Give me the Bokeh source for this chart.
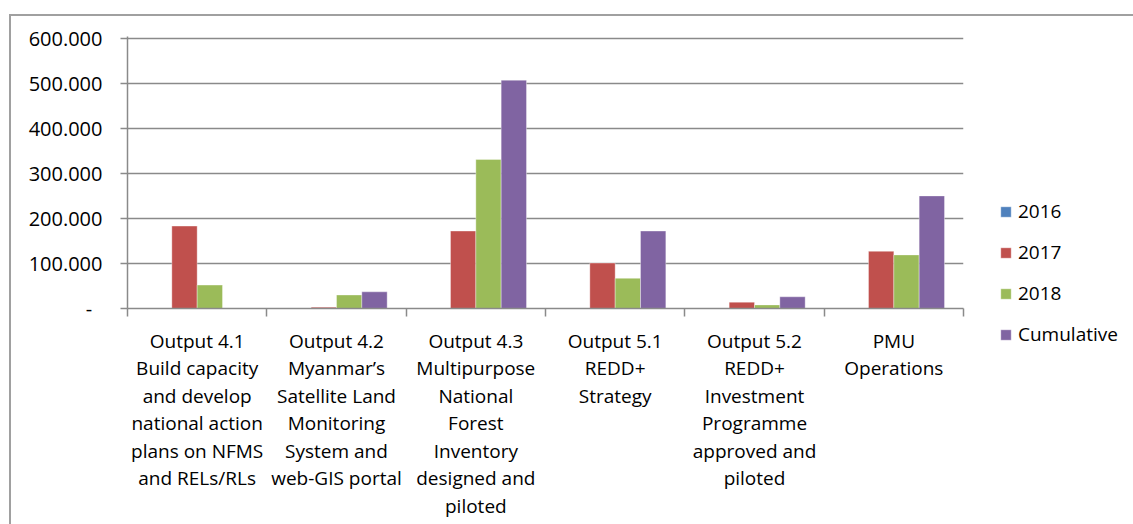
from bokeh.plotting import figure
from bokeh.models import (ColumnDataSource, FixedTicker, Range1d, Legend, LegendItem,
                          InlineStyleSheet)
from bokeh.transform import dodge
from bokeh.embed import file_html
from bokeh.resources import INLINE

categories = [
    "Output 4.1\nBuild capacity\nand develop\nnational action\nplans on NFMS\nand RELs/RLs",
    "Output 4.2\nMyanmar\u2019s\nSatellite Land\nMonitoring\nSystem and\nweb-GIS portal",
    "Output 4.3\nMultipurpose\nNational\nForest\nInventory\ndesigned and\npiloted",
    "Output 5.1\nREDD+\nStrategy",
    "Output 5.2\nREDD+\nInvestment\nProgramme\napproved and\npiloted",
    "PMU\nOperations",
]
series_names = ["2016", "2017", "2018", "Cumulative"]
v2016 = [0, 0, 0, 0, 0, 0]
v2017 = [183000, 3000, 172000, 101000, 14000, 127000]
v2018 = [52000, 30000, 331000, 67000, 8000, 119000]
vcum = [0, 37000, 507000, 172000, 26000, 250000]
y_ticks = [0, 100000, 200000, 300000, 400000, 500000, 600000]
y_tick_labels = ["-\u00a0\u00a0", "100.000", "200.000", "300.000", "400.000", "500.000", "600.000"]

colors = ["#4F81BD", "#C0504D", "#9BBB59", "#8064A2"]
FONT = "Open Sans"
GRID = "#8a8a8a"

src = ColumnDataSource(data=dict(
    pos=[i + 0.5 for i in range(len(categories))],
    s2016=v2016, s2017=v2017, s2018=v2018, scum=vcum,
))

p = figure(frame_width=836, frame_height=272,
           x_range=Range1d(0, len(categories)), y_range=Range1d(0, 604000),
           output_backend="svg", toolbar_location=None,
           min_border_left=127, min_border_right=170, min_border_top=36,
           min_border_bottom=216)
p.outline_line_color = None
p.background_fill_color = "white"
p.border_fill_color = "white"

bw = 1.0 / 5.5
cols = ["s2016", "s2017", "s2018", "scum"]
renderers = []
for j, (c, col) in enumerate(zip(cols, colors)):
    r = p.vbar(x=dodge("pos", (j - 1.5) * bw, range=p.x_range), top=c, width=bw,
               bottom=0, source=src, fill_color=col, line_color="white",
               line_alpha=0.35, line_width=1)
    renderers.append(r)

# grid
p.xgrid.grid_line_color = None
p.ygrid.ticker = FixedTicker(ticks=y_ticks)
p.ygrid.grid_line_color = GRID
p.ygrid.grid_line_width = 1.5

# y axis
ya = p.yaxis[0]
ya.ticker = FixedTicker(ticks=y_ticks)
ya.major_label_overrides = {t: l for t, l in zip(y_ticks, y_tick_labels)}
ya.axis_line_color = GRID
ya.axis_line_width = 1.5
ya.major_tick_line_color = GRID
ya.major_tick_line_width = 1.5
ya.major_tick_in = 0
ya.major_tick_out = 7
ya.minor_tick_line_color = None
ya.major_label_text_font = FONT
ya.major_label_text_font_size = "20px"
ya.major_label_text_color = "#000000"
ya.major_label_standoff = 18

# x axis: labels at centers, ticks at category boundaries
xa = p.xaxis[0]
centers = [i + 0.5 for i in range(len(categories))]
xa.ticker = FixedTicker(ticks=centers, minor_ticks=list(range(len(categories) + 1)))
xa.major_label_overrides = {c: lab for c, lab in zip(centers, categories)}
xa.axis_line_color = GRID
xa.axis_line_width = 1.5
xa.major_tick_line_color = None
xa.minor_tick_line_color = GRID
xa.minor_tick_line_width = 1.5
xa.minor_tick_in = 0
xa.minor_tick_out = 8
xa.major_label_text_font = FONT
xa.major_label_text_font_size = "19px"
xa.major_label_text_color = "#000000"
xa.major_label_text_line_height = 1.06
xa.major_label_standoff = 11

# legend
legend = Legend(items=[LegendItem(label=n, renderers=[r]) for n, r in zip(series_names, renderers)],
                location=(36, -39), orientation="vertical",
                glyph_width=13, glyph_height=13, label_standoff=6, spacing=15,
                padding=0, margin=0, border_line_color=None, background_fill_alpha=0,
                label_text_font=FONT, label_text_font_size="19px", label_text_color="#000000")
p.add_layout(legend, "right")

# outer chart-area border (top and left edges visible)
p.stylesheets = [InlineStyleSheet(css="""
:host::after {
  content: "";
  position: absolute;
  left: 9px; top: 14px; right: 0; bottom: 0;
  border-left: 2px solid #a0a0a0;
  border-top: 2px solid #a0a0a0;
  pointer-events: none;
}
""")]

open("out.html", "w").write(file_html(p, INLINE))
